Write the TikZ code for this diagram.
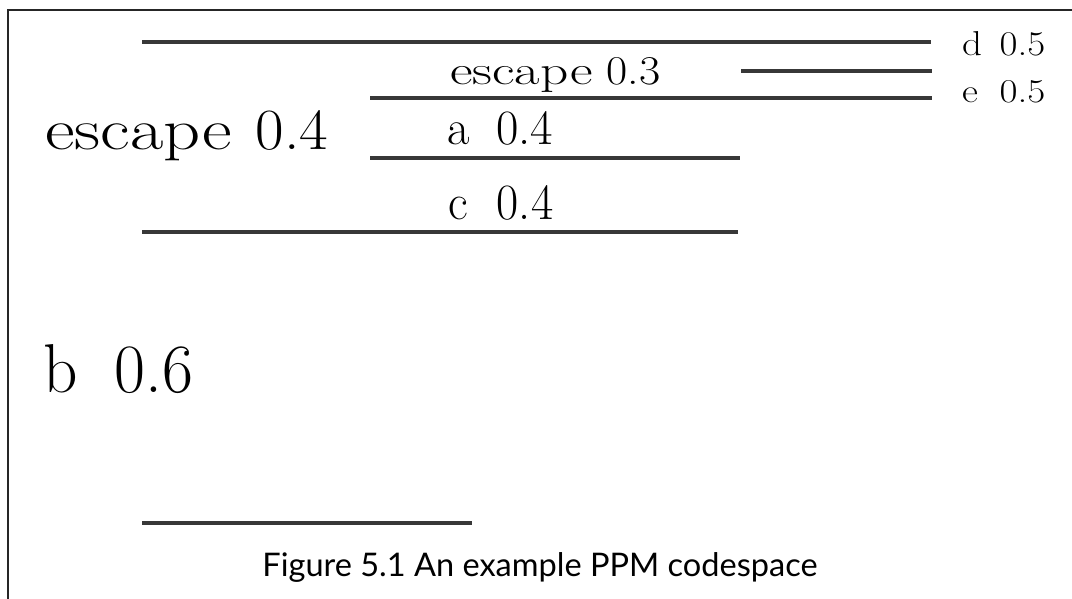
\documentclass[tikz,border=0pt]{standalone}
\usepackage{fontspec}
\usepackage{graphicx}
\newfontfamily\capfont{Lato}
\newcommand{\wide}[2]{\scalebox{#1}[1]{#2}}
\newcommand{\fitbox}[3]{\resizebox{#1pt}{#2pt}{#3}}
\begin{document}
\begin{tikzpicture}[x=1pt,y=-1pt,
  bar/.style={line width=4pt, draw=black!78},
  frame/.style={line width=1.6pt, draw=black!85},
  lbl/.style={inner sep=0pt, anchor=base west, font=#1},
  lbl/.default={\fontsize{46}{50}\selectfont}]
\useasboundingbox (0,0) rectangle (1072,599);
% frame
\coordinate (ftl) at (8,10);
\coordinate (fbl) at (8,599);
\coordinate (ftr) at (1072,10);
\draw[frame] (fbl) -- (ftl) -- (ftr);
% bars
\coordinate (b1a) at (142,42);  \coordinate (b1b) at (931,42);
\coordinate (b2a) at (741,71);  \coordinate (b2b) at (932,71);
\coordinate (b3a) at (370,98);  \coordinate (b3b) at (932,98);
\coordinate (b4a) at (370,158); \coordinate (b4b) at (740,158);
\coordinate (b5a) at (142,232); \coordinate (b5b) at (738,232);
\coordinate (b6a) at (142,523); \coordinate (b6b) at (472,523);
\draw[bar] (b1a) -- (b1b);
\draw[bar] (b2a) -- (b2b);
\draw[bar] (b3a) -- (b3b);
\draw[bar] (b4a) -- (b4b);
\draw[bar] (b5a) -- (b5b);
\draw[bar] (b6a) -- (b6b);
% labels
\node[lbl={\fontsize{36}{40}\selectfont}] (d) at (962,56) {\fitbox{83}{24}{d\hspace{0.45em}0.5}};
\node[lbl={\fontsize{36}{40}\selectfont}] (e) at (962,103) {\fitbox{83}{22}{e\hspace{0.55em}0.5}};
\node[lbl={\fontsize{42}{46}\selectfont}] (esc3) at (450,85) {\fitbox{210}{27}{\wide{1.2}{escape}\hspace{0.3em}0.3}};
\node[lbl={\fontsize{58}{64}\selectfont}] (esc4) at (45,150) {\fitbox{283}{39}{\wide{1.17}{escape}\hspace{0.38em}0.4}};
\node[lbl={\fontsize{50}{54}\selectfont}] (a) at (447,145) {\fitbox{106}{33}{a\hspace{0.55em}0.4}};
\node[lbl={\fontsize{50}{54}\selectfont}] (c) at (448,220) {\fitbox{105}{34}{c\hspace{0.6em}0.4}};
\node[lbl={\fontsize{64}{68}\selectfont}] (b) at (43,392) {\fitbox{150}{48}{b\hspace{0.55em}0.6}};
\node[inner sep=0pt, anchor=base, font=\capfont\fontsize{33}{36}\selectfont] (cap) at (540,576) {\resizebox{555pt}{!}{Figure 5.1 An example PPM codespace}};
\end{tikzpicture}
\end{document}
